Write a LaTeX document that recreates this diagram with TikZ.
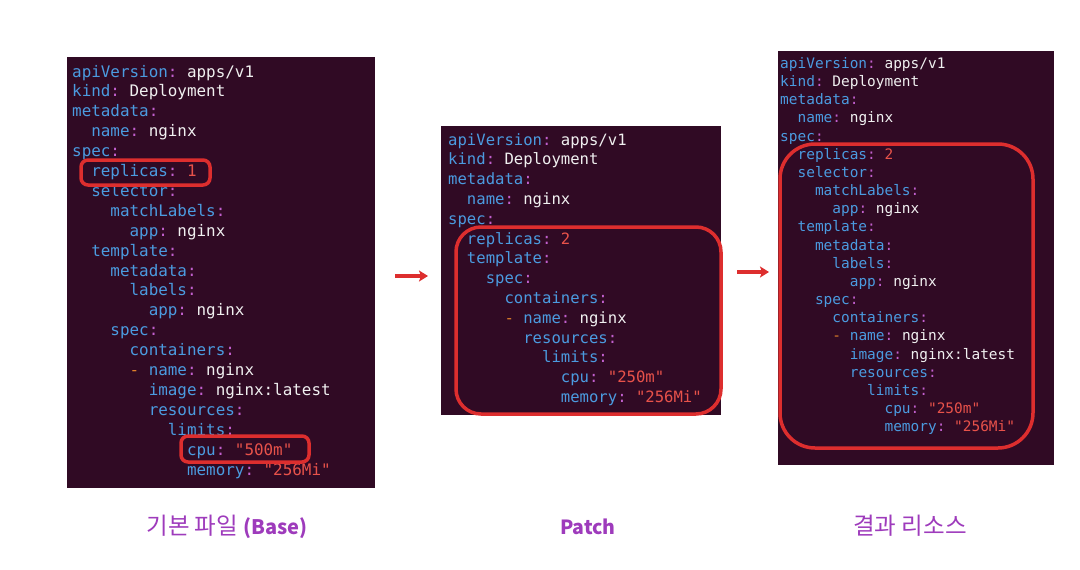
\documentclass[tikz,border=0pt]{standalone}
\usepackage{fontspec}
\setmonofont{DejaVu Sans Mono}
\newfontfamily\kr{Noto Sans CJK KR}
\usetikzlibrary{arrows.meta}
\definecolor{ybg}{HTML}{300A24}
\definecolor{ykey}{HTML}{4B9BE0}
\definecolor{ycol}{HTML}{C260CE}
\definecolor{yval}{HTML}{F0F0F0}
\definecolor{ynum}{HTML}{E8524A}
\definecolor{ydash}{HTML}{E0802A}
\definecolor{hred}{HTML}{DD2E2E}
\definecolor{cap}{HTML}{9E3BBC}
\newcommand\ii{\phantom{x}\phantom{x}}
\newcommand\spc{\phantom{x}}
\newcommand\ko[1]{\textcolor{ykey}{#1}\textcolor{ycol}{:}}
\newcommand\kv[2]{\ko{#1}\spc\textcolor{yval}{#2}}
\newcommand\kn[2]{\ko{#1}\spc\textcolor{ynum}{#2}}
\newcommand\dsh{\textcolor{ydash}{-}\spc}
\newcommand\latb[1]{{\bfseries\fontsize{20}{24}\selectfont #1}}
\tikzset{
  panel/.style={fill=ybg, draw=none},
  ya/.style={anchor=base west, inner sep=0pt, font=\ttfamily\fontsize{15.9}{18}\selectfont},
  yb/.style={anchor=base west, inner sep=0pt, font=\ttfamily\fontsize{15.6}{18}\selectfont},
  yc/.style={anchor=base west, inner sep=0pt, font=\ttfamily\fontsize{14.45}{16}\selectfont},
  hbox/.style={draw=hred, line width=3.5pt},
  harrow/.style={draw=hred, line width=3.5pt, -{Stealth[length=9pt,width=11pt,inset=2pt]}},
  caption/.style={anchor=base, inner sep=0pt, text=cap, font=\kr\fontsize{23.5}{26}\selectfont}
}
\begin{document}
\begin{tikzpicture}[x=1pt,y=-1pt]
\useasboundingbox (0,0) rectangle (1080,570);
\fill[white] (0,0) rectangle (1080,570);
% panels
\path[panel] (67,57) rectangle (375,488);
\path[panel] (441,126) rectangle (721,415);
\path[panel] (778,51) rectangle (1054,465);
% panel 1
\node[ya] (a1) at (72,77) {\kv{apiVersion}{apps/v1}};
\node[ya] (a2) at (72,96.9) {\kv{kind}{Deployment}};
\node[ya] (a3) at (72,116.8) {\ko{metadata}};
\node[ya] (a4) at (72,136.7) {\ii\kv{name}{nginx}};
\node[ya] (a5) at (72,156.6) {\ko{spec}};
\node[ya] (a6) at (72,176.5) {\ii\kn{replicas}{1}};
\node[ya] (a7) at (72,196.4) {\ii\ko{selector}};
\node[ya] (a8) at (72,216.3) {\ii\ii\ko{matchLabels}};
\node[ya] (a9) at (72,236.2) {\ii\ii\ii\kv{app}{nginx}};
\node[ya] (a10) at (72,256.1) {\ii\ko{template}};
\node[ya] (a11) at (72,276) {\ii\ii\ko{metadata}};
\node[ya] (a12) at (72,295.9) {\ii\ii\ii\ko{labels}};
\node[ya] (a13) at (72,315.8) {\ii\ii\ii\ii\kv{app}{nginx}};
\node[ya] (a14) at (72,335.7) {\ii\ii\ko{spec}};
\node[ya] (a15) at (72,355.6) {\ii\ii\ii\ko{containers}};
\node[ya] (a16) at (72,375.5) {\ii\ii\ii\dsh\kv{name}{nginx}};
\node[ya] (a17) at (72,395.4) {\ii\ii\ii\ii\kv{image}{nginx:latest}};
\node[ya] (a18) at (72,415.3) {\ii\ii\ii\ii\ko{resources}};
\node[ya] (a19) at (72,435.2) {\ii\ii\ii\ii\ii\ko{limits}};
\node[ya] (a20) at (72,455.1) {\ii\ii\ii\ii\ii\ii\kn{cpu}{"500m"}};
\node[ya] (a21) at (72,475) {\ii\ii\ii\ii\ii\ii\kn{memory}{"256Mi"}};
\draw[hbox, rounded corners=7pt] (81,160) rectangle (210,185);
\draw[hbox, rounded corners=7pt] (181,436) rectangle (309,462);
% panel 2
\node[yb] (b1) at (448,145) {\kv{apiVersion}{apps/v1}};
\node[yb] (b2) at (448,164.8) {\kv{kind}{Deployment}};
\node[yb] (b3) at (448,184.6) {\ko{metadata}};
\node[yb] (b4) at (448,204.4) {\ii\kv{name}{nginx}};
\node[yb] (b5) at (448,224.2) {\ko{spec}};
\node[yb] (b6) at (448,244) {\ii\kn{replicas}{2}};
\node[yb] (b7) at (448,263.8) {\ii\ko{template}};
\node[yb] (b8) at (448,283.6) {\ii\ii\ko{spec}};
\node[yb] (b9) at (448,303.4) {\ii\ii\ii\ko{containers}};
\node[yb] (b10) at (448,323.2) {\ii\ii\ii\dsh\kv{name}{nginx}};
\node[yb] (b11) at (448,343) {\ii\ii\ii\ii\ko{resources}};
\node[yb] (b12) at (448,362.8) {\ii\ii\ii\ii\ii\ko{limits}};
\node[yb] (b13) at (448,382.6) {\ii\ii\ii\ii\ii\ii\kn{cpu}{"250m"}};
\node[yb] (b14) at (448,402.4) {\ii\ii\ii\ii\ii\ii\kn{memory}{"256Mi"}};
\draw[hbox, rounded corners=25pt] (456,227) rectangle (721,414);
% panel 3
\node[yc] (c1) at (780,68.3) {\kv{apiVersion}{apps/v1}};
\node[yc] (c2) at (780,86.5) {\kv{kind}{Deployment}};
\node[yc] (c3) at (780,104.6) {\ko{metadata}};
\node[yc] (c4) at (780,122.8) {\ii\kv{name}{nginx}};
\node[yc] (c5) at (780,141) {\ko{spec}};
\node[yc] (c6) at (780,159.2) {\ii\kn{replicas}{2}};
\node[yc] (c7) at (780,177.3) {\ii\ko{selector}};
\node[yc] (c8) at (780,195.5) {\ii\ii\ko{matchLabels}};
\node[yc] (c9) at (780,213.7) {\ii\ii\ii\kv{app}{nginx}};
\node[yc] (c10) at (780,231.8) {\ii\ko{template}};
\node[yc] (c11) at (780,250) {\ii\ii\ko{metadata}};
\node[yc] (c12) at (780,268.2) {\ii\ii\ii\ko{labels}};
\node[yc] (c13) at (780,286.3) {\ii\ii\ii\ii\kv{app}{nginx}};
\node[yc] (c14) at (780,304.5) {\ii\ii\ko{spec}};
\node[yc] (c15) at (780,322.7) {\ii\ii\ii\ko{containers}};
\node[yc] (c16) at (780,340.9) {\ii\ii\ii\dsh\kv{name}{nginx}};
\node[yc] (c17) at (780,359) {\ii\ii\ii\ii\kv{image}{nginx:latest}};
\node[yc] (c18) at (780,377.2) {\ii\ii\ii\ii\ko{resources}};
\node[yc] (c19) at (780,395.4) {\ii\ii\ii\ii\ii\ko{limits}};
\node[yc] (c20) at (780,413.5) {\ii\ii\ii\ii\ii\ii\kn{cpu}{"250m"}};
\node[yc] (c21) at (780,431.7) {\ii\ii\ii\ii\ii\ii\kn{memory}{"256Mi"}};
\begin{scope}
\clip (778,51) rectangle (1054,465);
\node[yc] (c22) at (780,472) {\textcolor{ykey}{\textasciitilde}};
\end{scope}
\draw[hbox, rounded corners=35pt] (780,144) rectangle (1033,448);
% arrows
\coordinate (r1s) at (395,276);
\coordinate (r1e) at (428,276);
\coordinate (r2s) at (737,272);
\coordinate (r2e) at (769,272);
\draw[harrow] (r1s) -- (r1e);
\draw[harrow] (r2s) -- (r2e);
% captions
\node[caption] (t1) at (227,534) {기본 파일 \latb{(Base)}};
\node[caption] (t2) at (588,534) {\bfseries\fontsize{19.5}{24}\selectfont Patch};
\node[caption] (t3) at (910,534) {결과 리소스};
\end{tikzpicture}
\end{document}
